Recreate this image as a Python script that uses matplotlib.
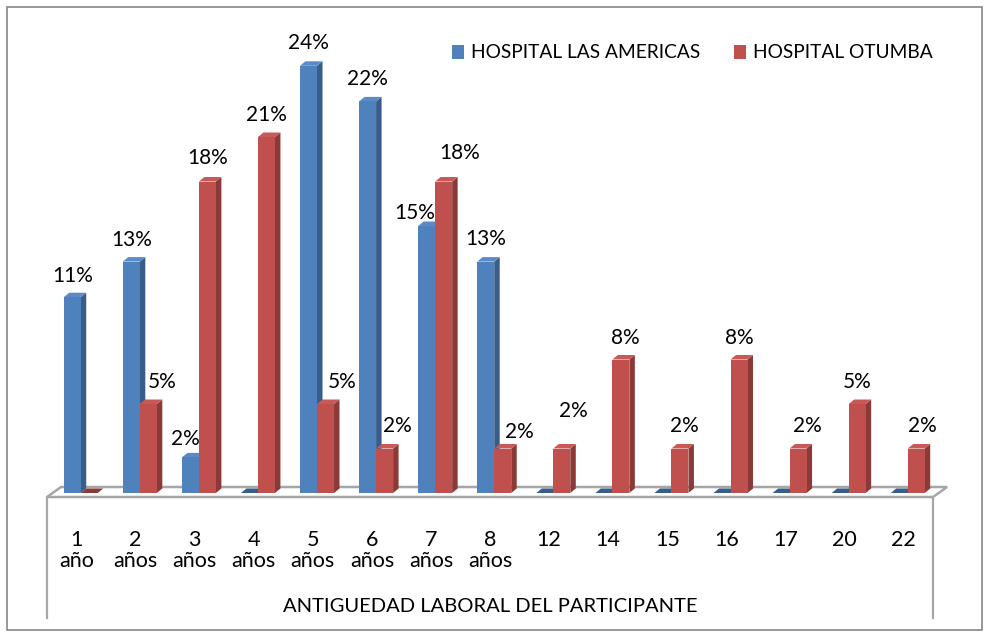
import matplotlib
matplotlib.use('Agg')
import matplotlib.pyplot as plt
from matplotlib.patches import Rectangle

plt.rcParams['font.family'] = ['Lato', 'DejaVu Sans']

# Data (percent)
categories = ["1\naño", "2\naños", "3\naños", "4\naños", "5\naños", "6\naños",
              "7\naños", "8\naños", "12", "14", "15", "16", "17", "20", "22"]
las_americas = [11, 13, 2, 0, 24, 22, 15, 13, 0, 0, 0, 0, 0, 0, 0]
otumba = [0, 5, 17.5, 20, 5, 2.5, 17.5, 2.5, 2.5, 7.5, 2.5, 7.5, 2.5, 5, 2.5]
las_americas_labels = ["11%", "13%", "2%", "", "24%", "22%", "15%", "13%",
                       "", "", "", "", "", "", ""]
otumba_labels = ["", "5%", "18%", "21%", "5%", "2%", "18%", "2%",
                 "2%", "8%", "2%", "8%", "2%", "5%", "2%"]
series_names = ["HOSPITAL LAS AMERICAS", "HOSPITAL OTUMBA"]
x_title = "ANTIGUEDAD LABORAL DEL PARTICIPANTE"

# label nudges in pixels (dx from bar centre, dy above bar top)
blue_dx = [0.5, 0, -5, 0, 0, 0, -12, 0, 0, 0, 0, 0, 0, 0, 0]
blue_dy = [15, 16, 12, 0, 17, 16, 7, 17, 0, 0, 0, 0, 0, 0, 0]
red_dx = [0, 13.5, 0, 0, 17, 13, 16, 16.5, 11.5, 4, 4, 0, 9, 0, 6]
red_dy = [0, 16, 17.5, 16, 16, 16.5, 22.5, 10.5, 31.5, 15.5, 16.5, 15.5, 16.5, 16, 16.5]

W, H = 989, 637
PX_CAT = 59.07   # pixels per category
PX_PCT = 17.8    # pixels per percent
X0, Y0 = 47, 493  # left of floor, bar base

BLUE = ('#4F81BD', '#385D8A', '#5A8BC7')
RED = ('#C0504D', '#8C3A38', '#C85956')
GRID = '#A6A6A6'
FS_LAB = 15
FS_CAT = 15.5
FS_LEG = 13.8
FS_TITLE = 14.5

fig = plt.figure(figsize=(W / 100, H / 100), dpi=100)
ax = fig.add_axes([0, 0, 1, 1])
ax.set_xlim(-X0 / PX_CAT - 0.5, (W - X0) / PX_CAT - 0.5)
ax.set_ylim(-(H - Y0) / PX_PCT, Y0 / PX_PCT)
ax.axis('off')

ddx, ddy = 5.5 / PX_CAT, 4.5 / PX_PCT    # bar depth
fdx = 14 / PX_CAT                         # floor depth
fy0, fy1 = -4 / PX_PCT, 6 / PX_PCT
n = len(categories)

# floor
ax.fill([-0.5, n - 0.5, n - 0.5 + fdx, -0.5 + fdx], [fy0, fy0, fy1, fy1],
        facecolor='white', edgecolor=GRID, lw=1.8, zorder=1)
y_bot = -(618 - Y0) / PX_PCT
for xv in (-0.5, n - 0.5):
    ax.plot([xv, xv], [fy0, y_bot], color=GRID, lw=1.6, zorder=1)


def bar3d(x, w, h, cols, z):
    front, side, top = cols
    r = x + w / 2
    if h > 0:
        ax.bar(x, h, width=w, color=front, linewidth=0, zorder=z + 0.2)
        ax.fill([r, r + ddx, r + ddx, r], [0, ddy, h + ddy, h],
                color=side, lw=0, zorder=z)
        ax.fill([x - w / 2, x - w / 2 + ddx, r + ddx, r], [h, h + ddy, h + ddy, h],
                color=top, lw=0, zorder=z + 0.1)
    else:
        ax.fill([x - w / 2, x - w / 2 + ddx, r + ddx, r], [0, ddy, ddy, 0],
                color=side, lw=0, zorder=z + 0.1)


bw = 17 / PX_CAT
off_b = -4.3 / PX_CAT
off_r = 12.7 / PX_CAT
for i in range(n):
    bar3d(i + off_b, bw, las_americas[i], BLUE, 2 + i)
    bar3d(i + off_r, bw, otumba[i], RED, 2.5 + i)
    if las_americas_labels[i]:
        ax.annotate(las_americas_labels[i], xy=(i + off_b, las_americas[i]),
                    xytext=(blue_dx[i], blue_dy[i]), textcoords='offset pixels',
                    ha='center', va='baseline', fontsize=FS_LAB, zorder=50)
    if otumba_labels[i]:
        ax.annotate(otumba_labels[i], xy=(i + off_r, otumba[i]),
                    xytext=(red_dx[i], red_dy[i]), textcoords='offset pixels',
                    ha='center', va='baseline', fontsize=FS_LAB, zorder=50)

# category labels
for i, lab in enumerate(categories):
    parts = lab.split('\n')
    ax.text(i, -(546 - Y0) / PX_PCT, parts[0], ha='center', va='baseline', fontsize=FS_CAT)
    if len(parts) > 1:
        ax.text(i, -(567 - Y0) / PX_PCT, parts[1], ha='center', va='baseline', fontsize=FS_CAT)

ax.text((n - 1) / 2, -(612 - Y0) / PX_PCT, x_title, ha='center', va='baseline',
        fontsize=FS_TITLE)

# legend
fx = lambda px: px / W
fy = lambda py: 1 - py / H
for (name, col, sq) in zip(series_names, (BLUE[0], RED[0]), (452, 734)):
    fig.patches.append(Rectangle((fx(sq), fy(59)), 12 / W, 14 / H, transform=fig.transFigure,
                                 facecolor=col, edgecolor='none'))
    fig.text(fx(sq + 19), fy(58.5), name, ha='left', va='baseline', fontsize=FS_LEG)

# chart border
fig.patches.append(Rectangle((fx(7), fy(630)), 975 / W, 623 / H, transform=fig.transFigure,
                             facecolor='none', edgecolor='#868686', lw=1.2))

fig.savefig('out.png', dpi=100)
